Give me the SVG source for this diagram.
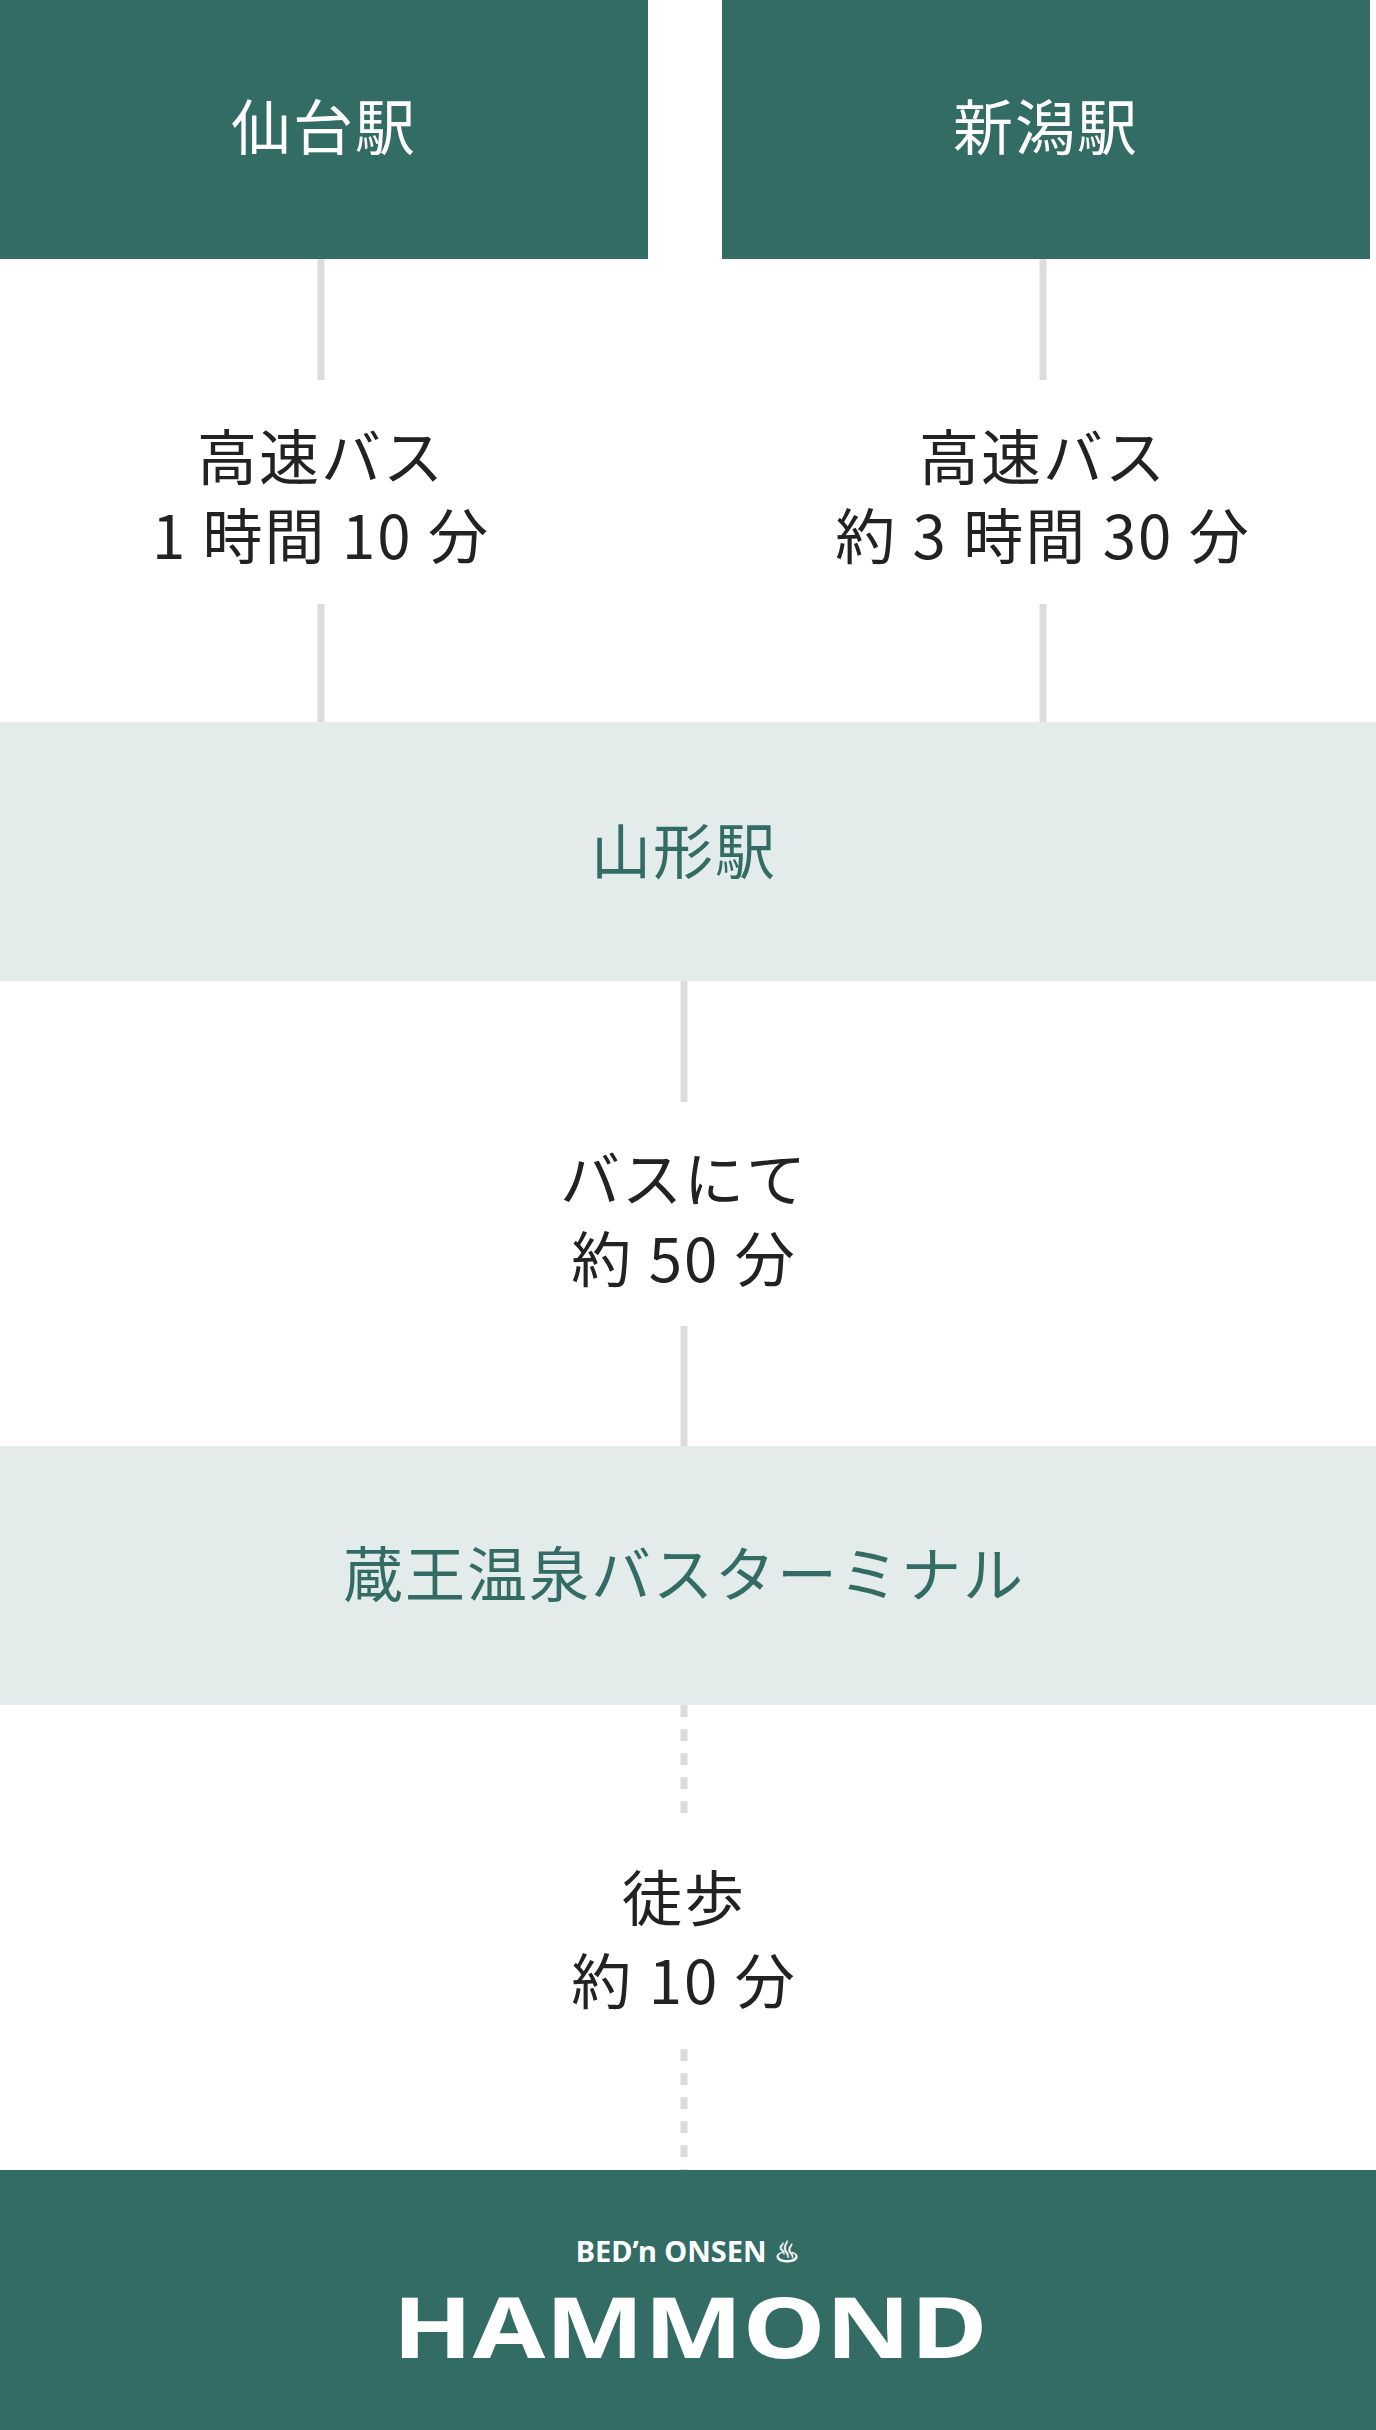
<svg xmlns="http://www.w3.org/2000/svg" width="1376" height="2430" viewBox="0 0 1376 2430">
<style>
.dk{fill:#336b65}.lt{fill:#e3ecea}
.w,.g,.t{font-family:"Noto Sans CJK JP","Noto Sans",sans-serif;font-size:60px;text-anchor:middle;letter-spacing:2px}
.w{fill:#fff}.g{fill:#336b65}.t{fill:#222}
.ln{stroke:#dcdcdc;stroke-width:7;fill:none}
.dt{stroke:#dcdcdc;stroke-width:7;fill:none;stroke-dasharray:12 12}
</style>
<rect width="1376" height="2430" fill="#fff"/>
<g id="connectors">
<line class="ln" x1="321" y1="259" x2="321" y2="380"/><line class="ln" x1="321" y1="604" x2="321" y2="722"/>
<line class="ln" x1="1043" y1="259" x2="1043" y2="380"/><line class="ln" x1="1043" y1="604" x2="1043" y2="722"/>
<line class="ln" x1="684" y1="981" x2="684" y2="1102"/><line class="ln" x1="684" y1="1326" x2="684" y2="1446"/>
<line class="dt" x1="684" y1="1705" x2="684" y2="1825"/><line class="dt" x1="684" y1="2049" x2="684" y2="2170"/>
<text class="t" x="321" y="480">高速バス</text><text class="t" x="321" y="559">1 時間 10 分</text>
<text class="t" x="1043" y="480">高速バス</text><text class="t" x="1043" y="559">約 3 時間 30 分</text>
<text class="t" x="684" y="1202">バスにて</text><text class="t" x="684" y="1282">約 50 分</text>
<text class="t" x="684" y="1921">徒歩</text><text class="t" x="684" y="2004">約 10 分</text>
</g>
<g id="sendai"><rect class="dk" x="0" y="0" width="648" height="259"/><text class="w" x="324" y="150">仙台駅</text></g>
<g id="niigata"><rect class="dk" x="722" y="0" width="648" height="259"/><text class="w" x="1046" y="150">新潟駅</text></g>
<g id="yamagata"><rect class="lt" x="0" y="722" width="1376" height="259"/><text class="g" x="684" y="874">山形駅</text></g>
<g id="zao"><rect class="lt" x="0" y="1446" width="1376" height="259"/><text class="g" x="684" y="1597">蔵王温泉バスターミナル</text></g>
<g id="hammond"><rect class="dk" x="0" y="2170" width="1376" height="260"/>
<text x="688" y="2262" fill="#fff" font-family="'Noto Sans',sans-serif" font-weight="bold" font-size="29" text-anchor="middle">BED’n ONSEN ♨</text>
<text x="690" y="2358" fill="#fff" font-family="'Noto Sans',sans-serif" font-weight="bold" font-size="84" text-anchor="middle" textLength="595" lengthAdjust="spacingAndGlyphs">HAMMOND</text>
</g>
</svg>
